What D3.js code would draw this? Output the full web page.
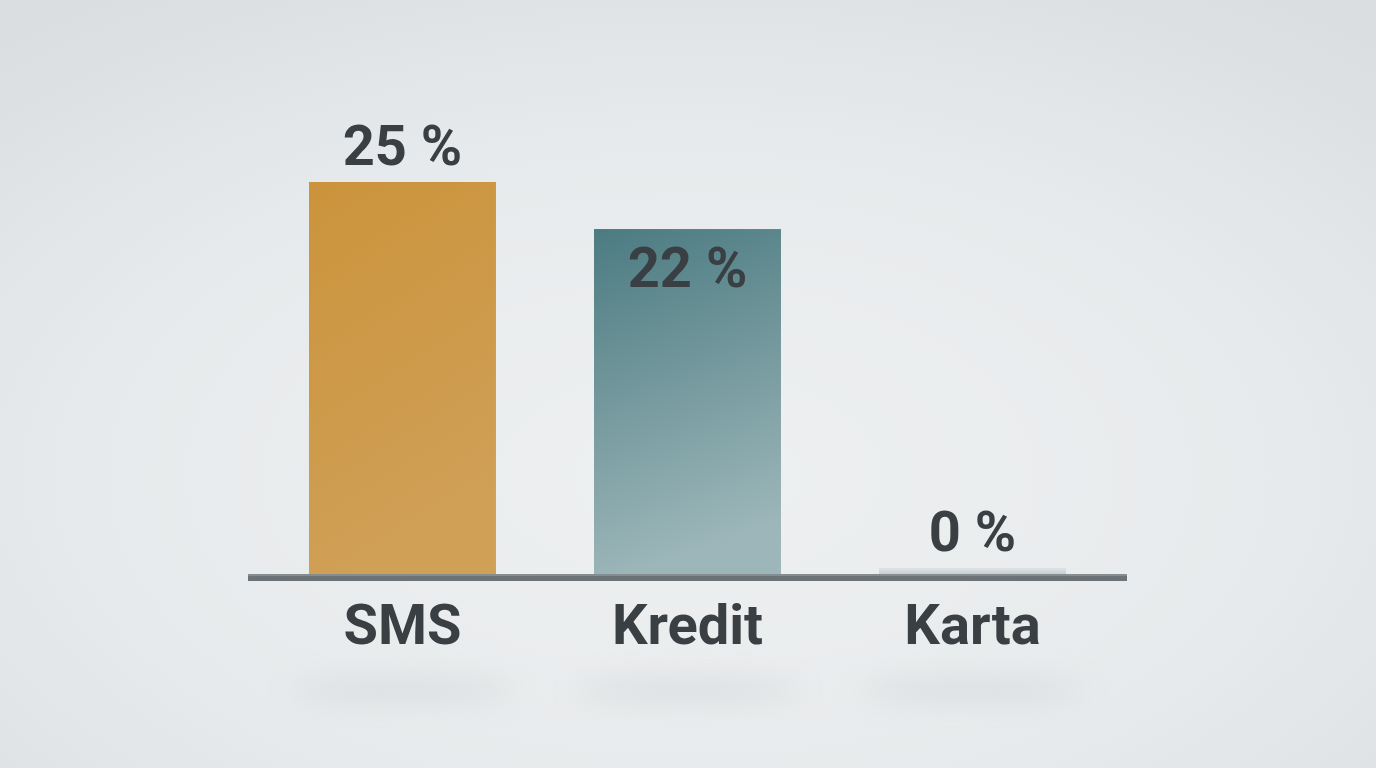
<!DOCTYPE html>
<html>
<head>
<meta charset="utf-8">
<script src="https://cdn.jsdelivr.net/npm/d3@7"></script>
<style>
  html, body { margin: 0; padding: 0; overflow: hidden; }
  body { width: 1376px; height: 768px; }
  svg { display: block; }
</style>
</head>
<body>
<svg id="chart"></svg>
<script>
const categories = ["SMS", "Kredit", "Karta"];
const values = [25, 22, 0];
const valueLabels = ["25 %", "22 %", "0 %"];

const width = 1376;
const height = 768;
const baseY = 574;

const svg = d3.select("#chart")
  .attr("width", width)
  .attr("height", height);

const defs = svg.append("defs");

// soft grey backdrop
const bg = defs.append("radialGradient")
  .attr("id", "bg")
  .attr("cx", "0.5").attr("cy", "0.62").attr("r", "0.75");
bg.append("stop").attr("offset", "0").attr("stop-color", "#eef0f1");
bg.append("stop").attr("offset", "0.6").attr("stop-color", "#e7eaec");
bg.append("stop").attr("offset", "1").attr("stop-color", "#dadee1");

const gold = defs.append("linearGradient")
  .attr("id", "gold").attr("x1", 0).attr("y1", 0).attr("x2", 0.3).attr("y2", 1);
gold.append("stop").attr("offset", "0").attr("stop-color", "#cb933b");
gold.append("stop").attr("offset", "1").attr("stop-color", "#d0a057");

const teal = defs.append("linearGradient")
  .attr("id", "teal").attr("x1", 0).attr("y1", 0).attr("x2", 0.2).attr("y2", 1);
teal.append("stop").attr("offset", "0").attr("stop-color", "#4b7b81");
teal.append("stop").attr("offset", "1").attr("stop-color", "#9cb6b9");

const stub = defs.append("linearGradient")
  .attr("id", "stub").attr("x1", 0).attr("y1", 0).attr("x2", 0).attr("y2", 1);
stub.append("stop").attr("offset", "0").attr("stop-color", "#dfe3e4");
stub.append("stop").attr("offset", "1").attr("stop-color", "#c9cfd1");

const blur = defs.append("filter").attr("id", "blur")
  .attr("x", "-50%").attr("y", "-200%").attr("width", "200%").attr("height", "500%");
blur.append("feGaussianBlur").attr("stdDeviation", 14);

const fills = ["url(#gold)", "url(#teal)", "url(#stub)"];

svg.append("rect")
  .attr("width", width).attr("height", height)
  .attr("fill", "url(#bg)");

const x = d3.scaleBand()
  .domain(categories)
  .range([248, 1127])
  .paddingInner(0.344)
  .paddingOuter(0.214);

const y = d3.scaleLinear()
  .domain([0, 25])
  .range([baseY, 182]);

// faint floor shadows under the labels
svg.append("g")
  .selectAll("ellipse")
  .data(categories)
  .join("ellipse")
  .attr("cx", d => x(d) + x.bandwidth() / 2)
  .attr("cy", 690)
  .attr("rx", x.bandwidth() * 0.6)
  .attr("ry", 8)
  .attr("fill", "#c4c9cc")
  .attr("opacity", 0.55)
  .attr("filter", "url(#blur)");

// bars (zero values get a thin stub)
svg.append("g")
  .selectAll("rect")
  .data(values)
  .join("rect")
  .attr("x", (d, i) => x(categories[i]))
  .attr("width", x.bandwidth())
  .attr("y", d => Math.min(y(d), baseY - 6))
  .attr("height", d => Math.max(baseY - y(d), 6))
  .attr("fill", (d, i) => fills[i]);

// baseline
svg.append("rect")
  .attr("x", x.range()[0]).attr("y", baseY)
  .attr("width", x.range()[1] - x.range()[0]).attr("height", 7)
  .attr("fill", "#6b7378");
svg.append("rect")
  .attr("x", x.range()[0]).attr("y", baseY)
  .attr("width", x.range()[1] - x.range()[0]).attr("height", 2)
  .attr("fill", "#868d91");

const font = "Roboto, 'Liberation Sans', sans-serif";

// value labels: above bar, or inside for the second bar
svg.append("g")
  .selectAll("text")
  .data(values)
  .join("text")
  .attr("x", (d, i) => x(categories[i]) + x.bandwidth() / 2)
  .attr("y", (d, i) => i === 1 ? y(d) + 58 : Math.min(y(d), baseY - 6) - 17)
  .attr("text-anchor", "middle")
  .attr("font-family", font)
  .attr("font-weight", 700)
  .attr("font-size", 56)
  .attr("fill", "#3a3f44")
  .text((d, i) => valueLabels[i]);

// category labels
svg.append("g")
  .selectAll("text")
  .data(categories)
  .join("text")
  .attr("x", d => x(d) + x.bandwidth() / 2)
  .attr("y", 644)
  .attr("text-anchor", "middle")
  .attr("font-family", font)
  .attr("font-weight", 700)
  .attr("font-size", 56)
  .attr("fill", "#3a3f44")
  .text(d => d);
</script>
</body>
</html>
